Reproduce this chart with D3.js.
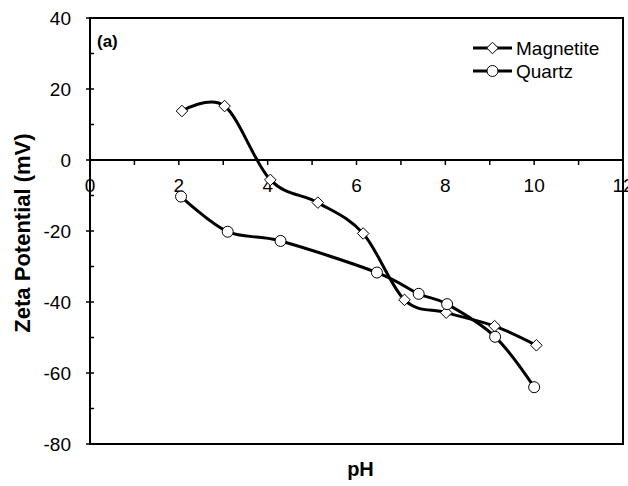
<!DOCTYPE html>
<html>
<head>
<meta charset="utf-8">
<script src="https://cdn.jsdelivr.net/npm/d3@7"></script>
<style>
  body { margin: 0; background: #fff; }
  svg { display: block; font-family: Arial, "Liberation Sans", sans-serif; }
</style>
</head>
<body>
<script>
// data
var magPH = [2.07, 3.03, 4.06, 5.13, 6.15, 7.08, 8.02, 9.11, 10.05];
var magZeta = [13.8, 15.2, -5.6, -12.0, -20.7, -39.4, -43.0, -46.8, -52.2];
var qtzPH = [2.05, 3.10, 4.29, 6.46, 7.40, 8.04, 9.12, 10.0];
var qtzZeta = [-10.3, -20.2, -22.8, -31.7, -37.7, -40.6, -49.8, -64.0];
var xTicks = [0, 2, 4, 6, 8, 10, 12];
var yTicks = [40, 20, 0, -20, -40, -60, -80];
var seriesNames = ["Magnetite", "Quartz"];

var width = 628, height = 486;
var plot = {left: 90, right: 623, top: 18, bottom: 444};

var svg = d3.select("body").append("svg")
    .attr("width", width)
    .attr("height", height);

var xScale = d3.scaleLinear().domain([0, 12]).range([plot.left, plot.right]);
var yScale = d3.scaleLinear().domain([-80, 40]).range([plot.bottom, plot.top]);

// frame
svg.append("rect")
    .attr("x", plot.left)
    .attr("y", plot.top)
    .attr("width", plot.right - plot.left)
    .attr("height", plot.bottom - plot.top)
    .attr("fill", "none")
    .attr("stroke", "#000")
    .attr("stroke-width", 2);

// y axis ticks (major + minor) and labels
var yAxis = svg.append("g");
d3.range(-80, 41, 10).forEach(function (v) {
    var major = v % 20 === 0;
    yAxis.append("line")
        .attr("x1", plot.left - (major ? 4 : 0))
        .attr("x2", plot.left + 4)
        .attr("y1", yScale(v))
        .attr("y2", yScale(v))
        .attr("stroke", "#000")
        .attr("stroke-width", 1.5);
});
yAxis.selectAll("text")
    .data(yTicks)
    .enter()
    .append("text")
    .attr("x", 71)
    .attr("y", function (d) { return yScale(d); })
    .attr("dy", "0.36em")
    .attr("text-anchor", "end")
    .attr("font-size", 19)
    .text(function (d) { return d; });

// x axis along zero line
var zeroY = yScale(0);
svg.append("line")
    .attr("x1", plot.left).attr("x2", plot.right)
    .attr("y1", zeroY).attr("y2", zeroY)
    .attr("stroke", "#000")
    .attr("stroke-width", 2);

var xAxis = svg.append("g");
d3.range(1, 12).forEach(function (v) {
    xAxis.append("line")
        .attr("x1", xScale(v)).attr("x2", xScale(v))
        .attr("y1", zeroY).attr("y2", zeroY + 5)
        .attr("stroke", "#000")
        .attr("stroke-width", 1.5);
});
xAxis.selectAll("text")
    .data(xTicks)
    .enter()
    .append("text")
    .attr("x", function (d) { return xScale(d); })
    .attr("y", zeroY + 32)
    .attr("text-anchor", "middle")
    .attr("font-size", 19)
    .text(function (d) { return d; });

// curves (Excel-style smoothing)
var line = d3.line()
    .x(function (d) { return xScale(d[0]); })
    .y(function (d) { return yScale(d[1]); })
    .curve(d3.curveCardinal.tension(0));

var magData = d3.zip(magPH, magZeta);
var qtzData = d3.zip(qtzPH, qtzZeta);

[magData, qtzData].forEach(function (data) {
    svg.append("path")
        .datum(data)
        .attr("d", line)
        .attr("fill", "none")
        .attr("stroke", "#000")
        .attr("stroke-width", 3);
});

var diamond = d3.symbol().type(d3.symbolDiamond2).size(85);
var circle = d3.symbol().type(d3.symbolCircle).size(95);

svg.selectAll(".mag")
    .data(magData)
    .enter()
    .append("path")
    .attr("class", "mag")
    .attr("d", diamond)
    .attr("transform", function (d) { return "translate(" + xScale(d[0]) + "," + yScale(d[1]) + ")"; })
    .attr("fill", "#fff")
    .attr("stroke", "#000")
    .attr("stroke-width", 1);

svg.selectAll(".qtz")
    .data(qtzData)
    .enter()
    .append("path")
    .attr("class", "qtz")
    .attr("d", circle)
    .attr("transform", function (d) { return "translate(" + xScale(d[0]) + "," + yScale(d[1]) + ")"; })
    .attr("fill", "#fff")
    .attr("stroke", "#000")
    .attr("stroke-width", 1);

// legend
var legend = svg.append("g");
seriesNames.forEach(function (name, i) {
    var ly = 48 + i * 23;
    legend.append("line")
        .attr("x1", 473).attr("x2", 512)
        .attr("y1", ly).attr("y2", ly)
        .attr("stroke", "#000")
        .attr("stroke-width", 3);
    legend.append("path")
        .attr("d", i === 0 ? diamond : circle)
        .attr("transform", "translate(492.5," + ly + ")")
        .attr("fill", "#fff")
        .attr("stroke", "#000");
    legend.append("text")
        .attr("x", 516)
        .attr("y", ly + 6.5)
        .attr("font-size", 19)
        .text(name);
});

// panel label
svg.append("text")
    .attr("x", 97)
    .attr("y", 47)
    .attr("font-size", 17)
    .attr("font-weight", "bold")
    .text("(a)");

// axis titles
svg.append("text")
    .attr("x", (plot.left + plot.right) / 2 + 4)
    .attr("y", 476)
    .attr("text-anchor", "middle")
    .attr("font-size", 20)
    .attr("font-weight", "bold")
    .text("pH");

svg.append("text")
    .attr("transform", "translate(30," + 233 + ") rotate(-90)")
    .attr("text-anchor", "middle")
    .attr("font-size", 22)
    .attr("font-weight", "bold")
    .text("Zeta Potential (mV)");
</script>
</body>
</html>
